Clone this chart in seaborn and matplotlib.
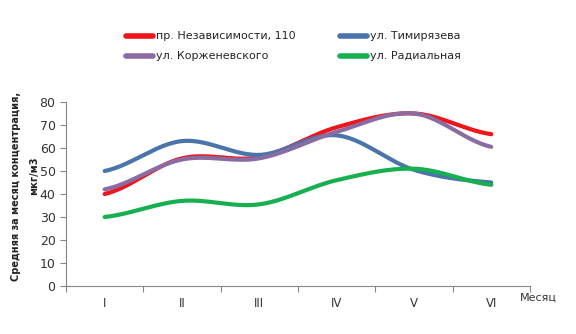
import numpy as np
import pandas as pd
import matplotlib
matplotlib.use("Agg")
import matplotlib.pyplot as plt
import seaborn as sns

months = ["I", "II", "III", "IV", "V", "VI"]
nezavisimosti = [40, 55.5, 56, 69, 75, 66]
timiryazeva = [50, 63, 57, 65.5, 50.5, 45]
korzhenevskogo = [42, 55, 55.5, 67, 75, 60.5]
radialnaya = [30, 37, 35.5, 46, 51, 44]

series = [
    ("пр. Независимости, 110", nezavisimosti, "#F0141B", 3),
    ("ул. Тимирязева", timiryazeva, "#4A74AA", 3),
    ("ул. Корженевского", korzhenevskogo, "#8A6CA2", 4),
    ("ул. Радиальная", radialnaya, "#17B050", 5),
]


def smooth(values, steps=30, tension=0.5):
    """Cardinal spline through the points, like a spreadsheet's smoothed line."""
    y = np.asarray(values, dtype=float)
    n = len(y)
    x = np.arange(n, dtype=float)
    yp = np.concatenate([[y[0]], y, [y[-1]]])
    xs, ys = [], []
    for i in range(n - 1):
        p0, p1, p2, p3 = yp[i], yp[i + 1], yp[i + 2], yp[i + 3]
        m1 = tension * (p2 - p0)
        m2 = tension * (p3 - p1)
        t = np.linspace(0, 1, steps, endpoint=(i == n - 2))
        h00 = 2 * t**3 - 3 * t**2 + 1
        h10 = t**3 - 2 * t**2 + t
        h01 = -2 * t**3 + 3 * t**2
        h11 = t**3 - t**2
        xs.append(x[i] + t)
        ys.append(h00 * p1 + h10 * m1 + h01 * p2 + h11 * m2)
    return np.concatenate(xs), np.concatenate(ys)


sns.set_theme(style="white")
plt.rcParams["font.family"] = ["DejaVu Sans"]

fig = plt.figure(figsize=(5.76, 3.34), dpi=100)
ax = fig.add_axes([0.1146, 0.1437, 0.8054, 0.551])

for name, vals, color, z in series:
    xs, ys = smooth(vals)
    sns.lineplot(x=xs, y=ys, ax=ax, color=color, linewidth=3.0, label=name,
                 sort=False, zorder=z)

ax.set_xlim(-0.5, len(months) - 0.5)
ax.set_ylim(0, 80)
ax.set_yticks(np.arange(0, 81, 10))
ax.set_xticks(np.arange(len(months)))
ax.set_xticklabels(months)
ax.set_xticks(np.arange(-0.5, len(months), 1.0), minor=True)
ax.tick_params(axis="x", which="major", length=0, labelsize=8.5, pad=8,
               colors="#333333")
ax.tick_params(axis="x", which="minor", length=4, width=0.8, color="#868686",
               direction="out", bottom=True)
ax.tick_params(axis="y", length=4, width=0.8, color="#868686", direction="out",
               left=True, labelsize=9, colors="#333333")
for s in ["top", "right"]:
    ax.spines[s].set_visible(False)
for s in ["left", "bottom"]:
    ax.spines[s].set_color("#868686")
    ax.spines[s].set_linewidth(0.8)

ax.set_xlabel("")
ax.set_ylabel("")

fig.text(0.903, 1 - 298 / 334, "Месяц", fontsize=8, color="#333333",
         ha="left", va="center")
fig.text(0.027, 1 - 186 / 334, "Средняя за месяц концентрация,", fontsize=7,
         fontweight="bold", rotation=90, ha="center", va="center",
         color="#222222")
fig.text(0.059, 1 - 176 / 334, "мкг/м3", fontsize=7, fontweight="bold",
         rotation=90, ha="center", va="center", color="#222222")

handles, labels = ax.get_legend_handles_labels()
order = [0, 2, 1, 3]
leg = fig.legend([handles[i] for i in order], [labels[i] for i in order],
                 ncol=2, loc="center", bbox_to_anchor=(0.51, 0.861),
                 frameon=False, fontsize=8, handlelength=2.4,
                 handletextpad=0.3, columnspacing=4.0, labelspacing=0.9,
                 borderpad=0.0)
ax.get_legend().remove()
for line in leg.get_lines():
    line.set_linewidth(4)

fig.savefig("out.png", dpi=100, facecolor="white")
